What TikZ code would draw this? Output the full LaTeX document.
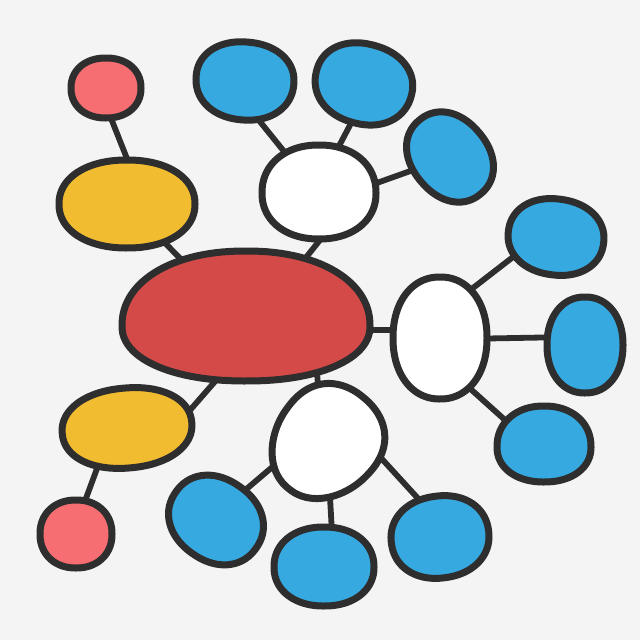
\documentclass[tikz,border=0pt]{standalone}
\definecolor{bg}{HTML}{F4F4F4}
\definecolor{ink}{HTML}{2E2E2E}
\definecolor{cred}{HTML}{D44A48}
\definecolor{cpink}{HTML}{F76E72}
\definecolor{cyellow}{HTML}{F2BC30}
\definecolor{cblue}{HTML}{36A9E1}
\newcommand{\blobexp}{0.93}
\newcommand{\blob}[8]{%
  \filldraw[outline,fill=#8,rotate around={#7:(#1,#2)}]
    plot[domain=0:360,samples=120,variable=\t]
    ({#1+#3*ifthenelse(cos(\t)<0,-1,1)*pow(abs(cos(\t))+0.0001,\blobexp)},
     {#2+ifthenelse(sin(\t)<0,-#4,#5)*pow(abs(sin(\t))+0.0001,\blobexp)*(1+#6*cos(\t))}) -- cycle;}
\begin{document}
\begin{tikzpicture}[x=0.1cm,y=-0.1cm,
  outline/.style={draw=ink,line width=0.7cm,line join=round},
  link/.style={draw=ink,line width=0.58cm,line cap=round}]
\fill[bg] (0,0) rectangle (640,640);
\useasboundingbox (0,0) rectangle (640,640);
% blob centres
\coordinate (pinkT) at (106,88);
\coordinate (yellowT) at (127,204);
\coordinate (red) at (246,326);
% connector ends
\coordinate (l1a) at (99,88);   \coordinate (l1b) at (145,204);
\coordinate (l3a) at (296,270); \coordinate (l3b) at (340,215);
\coordinate (l4a) at (249,108); \coordinate (l4b) at (299,170);
\coordinate (l5a) at (358,110); \coordinate (l5b) at (329,165);
\coordinate (l6a) at (360,189); \coordinate (l6b) at (430,164);
\coordinate (l7a) at (355,330); \coordinate (l7b) at (420,330);
\coordinate (l8a) at (460,298); \coordinate (l8b) at (535,240);
\coordinate (l9a) at (460,339); \coordinate (l9b) at (570,337);
\coordinate (l10a) at (455,375); \coordinate (l10b) at (525,438);
\coordinate (l11a) at (316,360); \coordinate (l11b) at (320,410);
\coordinate (l12a) at (225,370); \coordinate (l12b) at (171,432);
\coordinate (l13a) at (102,455); \coordinate (l13b) at (78,520);
\coordinate (l14a) at (290,452); \coordinate (l14b) at (230,503);
\coordinate (l15a) at (329,480); \coordinate (l15b) at (333,550);
\coordinate (l16a) at (360,435); \coordinate (l16b) at (435,517);
% connectors
\draw[link] (l1a) -- (l1b);
\draw[link] (yellowT) -- (red);
\foreach \i in {3,...,16}{\draw[link] (l\i a) -- (l\i b);}
% blobs: cx cy rx ryTop ryBot egg rot fill
\blob{106}{88}{35}{30}{30}{0}{0}{cpink}
\blob{127}{204}{68}{44}{44}{0}{0}{cyellow}
\blob{246}{326}{124}{75}{55}{0}{0}{cred}
\blob{319}{193}{57}{48}{46}{0}{0}{white}
\blob{245}{80}{49}{38}{40}{0}{-5}{cblue}
\blob{364}{83}{49}{39}{41}{0}{-15}{cblue}
\blob{450}{157}{48}{38}{38}{0}{-50}{cblue}
\blob{556}{237}{48}{38}{38}{0}{-8}{cblue}
\blob{440}{338}{47}{61}{61}{0}{0}{white}
\blob{585}{345}{38}{48}{48}{0}{0}{cblue}
\blob{544}{447}{47}{41}{35}{0}{0}{cblue}
\blob{326}{443}{59}{52}{52}{0.12}{50}{white}
\blob{216}{520}{49}{41}{41}{0}{-35}{cblue}
\blob{324}{567}{50}{40}{39}{0}{0}{cblue}
\blob{440}{537}{49}{41}{41}{0}{8}{cblue}
\blob{127}{428}{65}{40}{40}{0}{5}{cyellow}
\blob{76}{534}{36}{34}{34}{0}{0}{cpink}
\end{tikzpicture}
\end{document}
